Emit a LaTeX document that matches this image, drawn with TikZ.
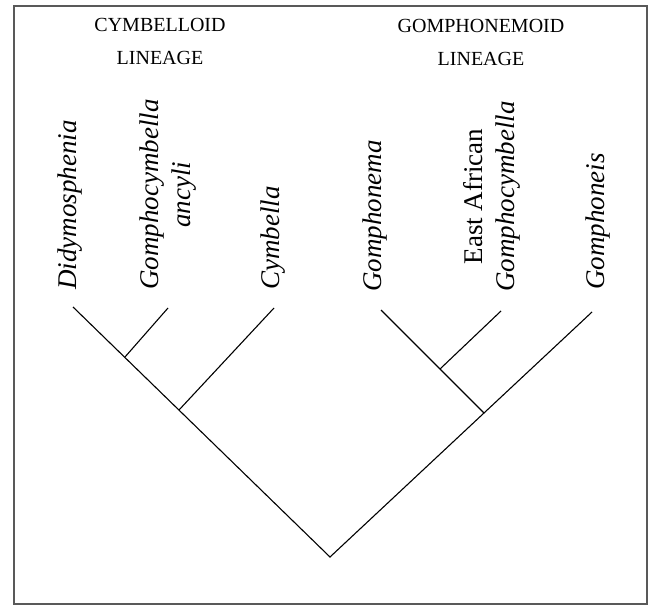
\documentclass[tikz,border=0pt]{standalone}
\usepackage{fontspec}
\setmainfont{Liberation Serif}
\begin{document}
\begin{tikzpicture}[x=1pt,y=1pt,
  branch/.style={line width=1.1pt,black},
  taxon/.style={rotate=90,anchor=west,inner sep=0pt,font=\fontsize{27}{32}\selectfont\itshape,align=center},
  lineage/.style={anchor=base,inner sep=0pt,font=\fontsize{20}{24}\selectfont}]
\useasboundingbox (0,0) rectangle (652,608);
\draw[line width=1.8pt,black!65] (14,4) rectangle (647,602);
% titles
\node[lineage] (t1) at (160,576) {CYMBELLOID};
\node[lineage] (t2) at (160,543) {LINEAGE};
\node[lineage] (t3) at (481,575) {GOMPHONEMOID};
\node[lineage] (t4) at (481,542) {LINEAGE};
% tree points
\coordinate (root) at (330,51);
\coordinate (L1) at (73,301);
\coordinate (j1) at (125,251);
\coordinate (L2) at (168,300);
\coordinate (j2) at (179,198);
\coordinate (L3) at (274,300);
\coordinate (R1) at (381,298);
\coordinate (j3) at (440,239);
\coordinate (R2) at (501,297);
\coordinate (j4) at (484,195);
\coordinate (R3) at (592,296);
\draw[branch] (L1) -- (root) -- (R3);
\draw[branch] (L2) -- (j1);
\draw[branch] (L3) -- (j2);
\draw[branch] (R1) -- (j4);
\draw[branch] (R2) -- (j3);
% taxa
\node[taxon] (n1) at (70,318) {Didymosphenia};
\node[taxon] (n2) at (168,318) {Gomphocymbella\\ancyli};
\node[taxon] (n3) at (273,318) {Cymbella};
\node[taxon] (n4) at (375,316) {Gomphonema};
\node[taxon] (n5) at (492,316) {\upshape East African\\Gomphocymbella};
\node[taxon] (n6) at (598,318) {Gomphoneis};
\end{tikzpicture}
\end{document}
